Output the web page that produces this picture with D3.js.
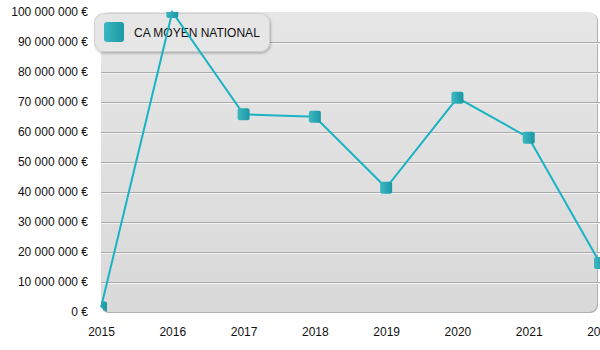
<!DOCTYPE html>
<html><head><meta charset="utf-8">
<script src="https://cdn.jsdelivr.net/npm/d3@7"></script>
<style>html,body{margin:0;padding:0;background:#fff;}svg{display:block;font-family:"Liberation Sans",Arial,sans-serif;}</style>
</head><body>
<svg id="c" width="600" height="350"></svg>
<script>
const years = ["2015","2016","2017","2018","2019","2020","2021","2022"];
const caMoyen = [1500000, 100000000, 65900000, 65100000, 41400000, 71400000, 58100000, 16300000];
const yTicks = [0,10000000,20000000,30000000,40000000,50000000,60000000,70000000,80000000,90000000,100000000];
const seriesName = "CA MOYEN NATIONAL";

const svg = d3.select("#c");
const L = 101, R = 600, T = 12, B = 312;
const x = d3.scalePoint().domain(years).range([L, R]);
const y = d3.scaleLinear().domain([0, 100000000]).range([B, T]);
const fmt = v => d3.format(",")(v).replace(/,/g, " ") + " €";

const defs = svg.append("defs");
const bg = defs.append("linearGradient").attr("id","bg").attr("x1",0).attr("y1",0).attr("x2",0).attr("y2",1);
bg.append("stop").attr("offset","0%").attr("stop-color","#e6e6e6");
bg.append("stop").attr("offset","100%").attr("stop-color","#d9d9d9");
const mg = defs.append("linearGradient").attr("id","mk").attr("x1",0).attr("y1",0).attr("x2",1).attr("y2",0);
mg.append("stop").attr("offset","0%").attr("stop-color","#3cb8c2");
mg.append("stop").attr("offset","100%").attr("stop-color","#1a97a3");
defs.append("clipPath").attr("id","clip").append("rect")
  .attr("x",L).attr("y",T).attr("width",R-L+1).attr("height",B-T).attr("rx",8);
const sh = defs.append("filter").attr("id","sh").attr("x","-10%").attr("y","-20%").attr("width","130%").attr("height","160%");
sh.append("feDropShadow").attr("dx",1).attr("dy",1.5).attr("stdDeviation",1.2).attr("flood-color","#000").attr("flood-opacity",0.25);

// plot background
svg.append("rect").attr("x",L).attr("y",T+1).attr("width",R-L-2).attr("height",B-T).attr("rx",8).attr("fill","#b0b0b0");
svg.append("rect").attr("x",L).attr("y",T).attr("width",R-L-3).attr("height",B-T).attr("rx",8).attr("fill","url(#bg)");

// grid
const g = svg.append("g").attr("clip-path","url(#clip)");
yTicks.filter(v => v > 0 && v < 100000000).forEach(v => {
  g.append("line").attr("x1",L).attr("x2",R).attr("y1",Math.round(y(v))+0.5).attr("y2",Math.round(y(v))+0.5).attr("stroke","#a9a9a9");
  g.append("line").attr("x1",L).attr("x2",R).attr("y1",Math.round(y(v))+1.5).attr("y2",Math.round(y(v))+1.5).attr("stroke","#f4f4f4");
});

// y axis
const ya = svg.append("g").attr("transform",`translate(${L-13},0)`)
  .call(d3.axisLeft(y).tickValues(yTicks).tickFormat(fmt).tickSize(0).tickPadding(0));
ya.select(".domain").remove();
ya.selectAll("text").attr("font-size",12).attr("fill","#111").attr("font-family","Liberation Sans, Arial, sans-serif");

// x axis
const xa = svg.append("g").attr("transform",`translate(0,${B+12})`)
  .call(d3.axisBottom(x).tickSize(0).tickPadding(3));
xa.select(".domain").remove();
xa.selectAll("text").attr("font-size",12).attr("fill","#111").attr("font-family","Liberation Sans, Arial, sans-serif");

// legend
const lg = svg.append("g");
lg.append("rect").attr("x",94.5).attr("y",13.5).attr("width",175).attr("height",38).attr("rx",9)
  .attr("fill","#e6e6e6").attr("stroke","#d0d0d0").attr("filter","url(#sh)");
lg.append("rect").attr("x",104).attr("y",22).attr("width",20).attr("height",20).attr("rx",3).attr("fill","url(#mk)");
lg.append("text").attr("x",134).attr("y",37).attr("font-size",12).attr("fill","#111").text(seriesName);

// line and markers (drawn over legend)
const pts = years.map((yr,i)=>({yr, v: caMoyen[i]}));
svg.append("path").datum(pts)
  .attr("fill","none").attr("stroke","#19b3c3").attr("stroke-width",2)
  .attr("d", d3.line().x(d=>x(d.yr)).y(d=>y(d.v)));
const g2 = svg.append("g").attr("clip-path","url(#clip)");
g2.selectAll("rect.m").data(pts).join("rect").attr("class","m")
  .attr("x",d=>x(d.yr)-6).attr("y",d=>y(d.v)-6).attr("width",12).attr("height",12).attr("rx",2)
  .attr("fill","url(#mk)");
</script>
</body></html>
